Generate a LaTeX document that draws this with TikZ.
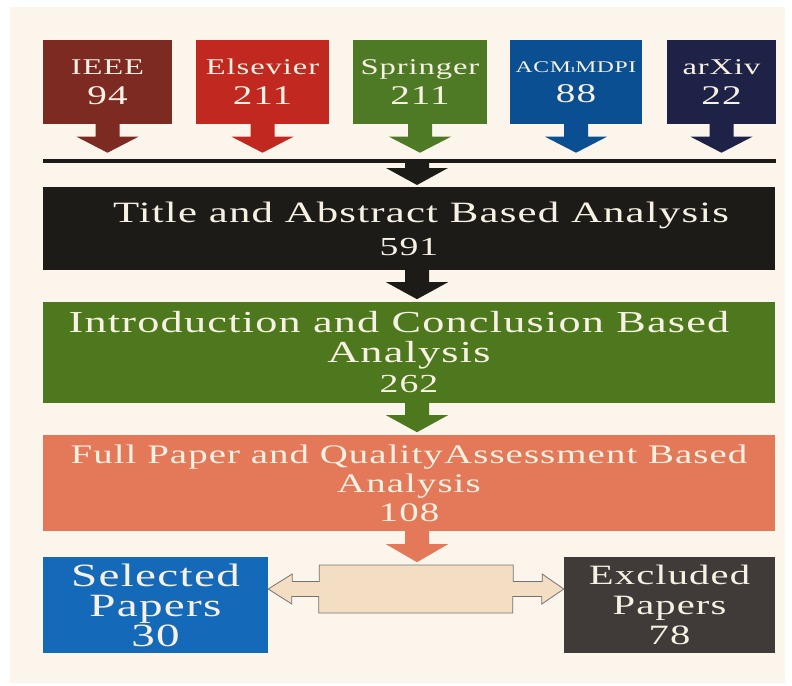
\documentclass[tikz,border=0pt]{standalone}
\usepackage{fontspec}
\setmainfont{Liberation Serif}[FakeStretch=1.45,LetterSpace=4]
\definecolor{paper}{HTML}{FCF5EC}
\definecolor{ink}{HTML}{F7F1E3}
\definecolor{ieeecol}{HTML}{7C2A22}
\definecolor{elscol}{HTML}{C1281F}
\definecolor{sprcol}{HTML}{4E7A26}
\definecolor{acmcol}{HTML}{0B4F93}
\definecolor{arxcol}{HTML}{1F2247}
\definecolor{tabcol}{HTML}{1D1B18}
\definecolor{intcol}{HTML}{4E781E}
\definecolor{fullcol}{HTML}{E4795A}
\definecolor{selcol}{HTML}{1569B9}
\definecolor{exccol}{HTML}{403B39}
\definecolor{midcol}{HTML}{F3DEC3}
\newcommand{\blockarrow}[4]{%
  \fill[#1] ([xshift=-12pt]#2) -- ++(0,#3) -- ++(-19,0) -- ++(31,#4)
    -- ++(31,-#4) -- ++(-19,0) -- ++(0,-#3) -- cycle;}
\begin{document}
\begin{tikzpicture}[x=1pt,y=-1pt,line join=miter,
  box/.style={inner sep=0pt,align=center,text=ink},
  src/.style={box,minimum height=83pt,font=\fontsize{22.5}{30}\selectfont},
  stage/.style={box,minimum width=732pt},
  final/.style={box,minimum height=96pt,font=\fontsize{32.5}{30}\selectfont}]
  \useasboundingbox (0,0) rectangle (792,685);
  \fill[white] (0,0) rectangle (792,685);
  \fill[paper] (10,7) rectangle (785,683);
  % sources
  \node[src,fill=ieeecol,minimum width=129pt] (ieee) at (107.5,82)
    {IEEE\\{\fontsize{27}{30}\selectfont 94}};
  \node[src,fill=elscol,minimum width=133pt] (els) at (262.5,82)
    {Elsevier\\{\fontsize{27}{30}\selectfont 211}};
  \node[src,fill=sprcol,minimum width=134pt] (spr) at (420,82)
    {Springer\\{\fontsize{27}{30}\selectfont 211}};
  \node[src,fill=acmcol,minimum width=132pt] (acm) at (576,82)
    {{\fontsize{16.3}{30}\selectfont ACM{\fontsize{11}{30}\selectfont ı}MDPI}\\{\fontsize{27}{30}\selectfont 88}};
  \node[src,fill=arxcol,minimum width=109pt] (arx) at (721.5,82)
    {arXiv\\{\fontsize{27}{30}\selectfont 22}};
  \blockarrow{ieeecol}{ieee.south}{13}{16}
  \blockarrow{elscol}{els.south}{13}{16}
  \blockarrow{sprcol}{spr.south}{13}{16}
  \blockarrow{acmcol}{acm.south}{13}{16}
  \blockarrow{arxcol}{arx.south}{13}{16}
  % merge bar
  \coordinate (barL) at (43,161);
  \coordinate (barR) at (776,161);
  \coordinate (bar) at (417,163);
  \draw[tabcol,line width=4.5pt] (barL) -- (barR);
  % stages
  \node[stage,fill=tabcol,minimum height=83pt,font=\fontsize{29.5}{33}\selectfont]
    (tab) at (409,228.5) {\hspace*{24pt}Title and Abstract Based Analysis\\{\fontsize{26}{33}\selectfont 591}};
  \node[stage,fill=intcol,minimum height=101pt,font=\fontsize{30.5}{30}\selectfont]
    (intro) at (409,352.5) {Introduction and Conclusion Based\hspace*{20pt}\\Analysis\\{\fontsize{26}{30}\selectfont 262}};
  \node[stage,fill=fullcol,minimum height=96pt,font=\fontsize{26.8}{29}\selectfont]
    (full) at (409,483) {Full Paper and Quality\hspace{.05em}Assessment Based\\Analysis\\108};
  \blockarrow{tabcol}{bar}{5}{17}
  \path ([xshift=8pt]tab.south) coordinate (tabout)
        ([xshift=8pt]intro.south) coordinate (introout)
        ([xshift=8pt]full.south) coordinate (fullout);
  \blockarrow{tabcol}{tabout}{12}{17}
  \blockarrow{intcol}{introout}{12}{17}
  \blockarrow{fullcol}{fullout}{13}{18}
  % outcome
  \node[final,fill=selcol,minimum width=225pt] (sel) at (155.5,605)
    {Selected\\Papers\\30};
  \node[final,fill=exccol,minimum width=211pt,font=\fontsize{28}{30}\selectfont] (exc) at (669.5,605)
    {Excluded\\Papers\\78};
  \coordinate (split) at (sel.east |- 0,589);
  \filldraw[fill=midcol,draw=black!55,line width=.8pt] (split)
    -- ++(24,-15) -- ++(0,7.5) -- ++(27,0) -- ++(0,-16.5) -- ++(194,0)
    -- ++(0,16.5) -- ++(29,0) -- ++(0,-7.5) -- (exc.west |- split)
    -- ++(-22,15) -- ++(0,-7.5) -- ++(-29,0) -- ++(0,16.5) -- ++(-194,0)
    -- ++(0,-16.5) -- ++(-27,0) -- ++(0,7.5) -- cycle;
\end{tikzpicture}
\end{document}
